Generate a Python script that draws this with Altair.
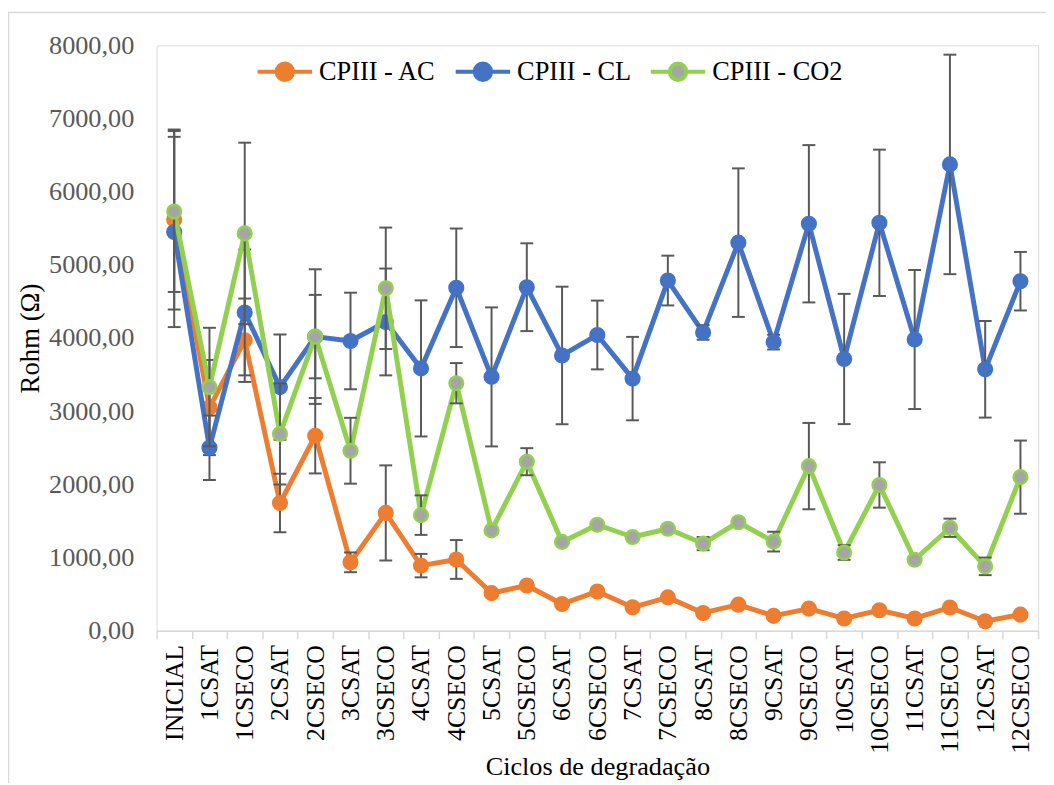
import altair as alt
import pandas as pd

ciclos = ["INICIAL", "1CSAT", "1CSECO", "2CSAT", "2CSECO", "3CSAT", "3CSECO",
          "4CSAT", "4CSECO", "5CSAT", "5CSECO", "6CSAT", "6CSECO", "7CSAT",
          "7CSECO", "8CSAT", "8CSECO", "9CSAT", "9CSECO", "10CSAT", "10CSECO",
          "11CSAT", "11CSECO", "12CSAT", "12CSECO"]

series_names = ["CPIII - AC", "CPIII - CL", "CPIII - CO2"]

ac_vals = [5620, 3050, 3970, 1745, 2665, 935, 1610, 890, 974, 514, 618, 365, 537,
           320, 456, 243, 356, 203, 302, 168, 280, 168, 318, 130, 220]
ac_err = [1230, 650, 570, 400, 515, 135, 650, 160, 265, 45, 40, 30, 30,
          30, 30, 30, 30, 25, 25, 20, 25, 20, 25, 20, 20]

cl_vals = [5450, 2500, 4350, 3330, 4020, 3960, 4220, 3585, 4687, 3469, 4695, 3762, 4042,
           3446, 4786, 4077, 5304, 3944, 5562, 3714, 5575, 3980, 6373, 3573, 4777]
cl_err = [1300, 440, 860, 720, 920, 660, 730, 930, 810, 950, 600, 940, 470,
          570, 340, 100, 1015, 100, 1075, 890, 1000, 950, 1500, 660, 400]

co2_vals = [5730, 3330, 5430, 2690, 4020, 2460, 4680, 1580, 3383, 1371, 2310, 1214, 1448,
            1281, 1394, 1191, 1483, 1218, 2250, 1069, 1992, 970, 1407, 880, 2099]
co2_err = [1100, 810, 1240, 690, 570, 450, 830, 270, 275, 30, 185, 30, 30,
           30, 40, 90, 30, 135, 590, 100, 310, 30, 125, 120, 500]

line_colors = ["#ED7D31", "#4472C4", "#92D050"]
fill_colors = ["#ED7D31", "#4472C4", "#A5A5A5"]

rows = []
for name, vals, errs in zip(series_names, [ac_vals, cl_vals, co2_vals], [ac_err, cl_err, co2_err]):
    for c, v, e in zip(ciclos, vals, errs):
        rows.append({"ciclo": c, "serie": name, "valor": v, "lo": v - e, "hi": v + e})
df = pd.DataFrame(rows)

FONT = "Liberation Serif"
W, H = 890, 591

x_enc = alt.X("ciclo:N", sort=ciclos,
              scale=alt.Scale(type="band", paddingInner=0, paddingOuter=0),
              axis=alt.Axis(title="Ciclos de degradação", labelAngle=270,
                            labelAlign="right", labelBaseline="middle",
                            labelFont=FONT, labelFontSize=26, labelColor="#000000",
                            labelPadding=6, tickBand="extent", tickSize=8,
                            tickColor="#D9D9D9", tickWidth=1.5,
                            domainColor="#D9D9D9", domainWidth=1.5, grid=False,
                            titleFont=FONT, titleFontSize=26.5, titleFontWeight="normal",
                            titleColor="#000000", titleX=W / 2, titleY=137,
                            titleAlign="center", titleBaseline="middle"))
y_scale = alt.Scale(domain=[0, 8000], nice=False)
y_axis = alt.Axis(title="Rohm (Ω)", values=list(range(0, 8001, 1000)),
                  labelExpr="replace(format(datum.value, '.2f'), '.', ',')",
                  labelFont=FONT, labelFontSize=26.5, labelColor="#595959",
                  labelPadding=23, ticks=False, domain=False, grid=False,
                  titleFont=FONT, titleFontSize=27, titleFontWeight="normal",
                  titleColor="#000000", titleAngle=270, titleX=-127, titleY=H / 2,
                  titleAlign="center", titleBaseline="middle")

legend_path = ("M-1,0L-0.3,0M0.3,0L1,0M0.3,0A0.3,0.3,0,1,1,-0.3,0"
               "A0.3,0.3,0,1,1,0.3,0Z")
legend = alt.Legend(title=None, orient="none", legendX=100, legendY=-3,
                    direction="horizontal", symbolType=legend_path, symbolSize=3025,
                    symbolStrokeWidth=4, symbolOpacity=1, labelFont=FONT, labelFontSize=26.6,
                    labelColor="#000000", labelOffset=5, columnPadding=11, padding=0)

stroke_scale = alt.Scale(domain=series_names, range=line_colors)
fill_scale = alt.Scale(domain=series_names, range=fill_colors)

base = alt.Chart(df)
y_val = alt.Y("valor:Q", scale=y_scale, axis=y_axis)
stroke_enc = alt.Stroke("serie:N", scale=stroke_scale, legend=legend)
fill_enc = alt.Fill("serie:N", scale=fill_scale, legend=legend)

layers = []
# legend carrier (no data rows drawn): circle marks give the legend its filled symbols
legend_layer = base.transform_filter("false").mark_circle(opacity=1, strokeWidth=2.5).encode(
    x=x_enc, y=y_val, fill=fill_enc, stroke=stroke_enc)
layers.append(legend_layer)

border = alt.Chart(pd.DataFrame({"b": [0]})).mark_rect(
    fill="transparent", stroke="#D9D9D9", strokeWidth=1.5
).encode(x=alt.value(-149.5), x2=alt.value(W + 40), y=alt.value(-33.2), y2=alt.value(H + 220))
layers.append(border)

for name in series_names:
    sub = base.transform_filter(alt.datum.serie == name)
    line = sub.mark_line(strokeWidth=5, strokeJoin="round", strokeCap="round").encode(
        x=x_enc, y=y_val, stroke=stroke_enc)
    rule = sub.mark_rule(color="#595959", strokeWidth=2).encode(
        x=x_enc,
        y=alt.Y("lo:Q", scale=y_scale, axis=y_axis),
        y2="hi:Q",
    )
    cap_lo = sub.mark_tick(color="#595959", thickness=2, size=13, opacity=1).encode(
        x=x_enc, y=alt.Y("lo:Q", scale=y_scale, axis=y_axis))
    cap_hi = sub.mark_tick(color="#595959", thickness=2, size=13, opacity=1).encode(
        x=x_enc, y=alt.Y("hi:Q", scale=y_scale, axis=y_axis))
    pts = sub.mark_circle(size=190, opacity=1, strokeWidth=2.5).encode(
        x=x_enc, y=y_val, fill=fill_enc, stroke=stroke_enc)
    layers += [line, rule, cap_lo, cap_hi, pts]

chart = alt.layer(*layers).properties(
    width=W, height=H,
    autosize=alt.AutoSizeParams(type="none"),
    padding={"left": 150, "top": 34, "right": 8, "bottom": 150},
    background="white",
).configure_view(strokeWidth=0).configure(font=FONT).configure_axis(
    labelFont=FONT, titleFont=FONT
).configure_legend(labelFont=FONT)

chart.save("out.html", embed_options={"renderer": "svg", "actions": False})
